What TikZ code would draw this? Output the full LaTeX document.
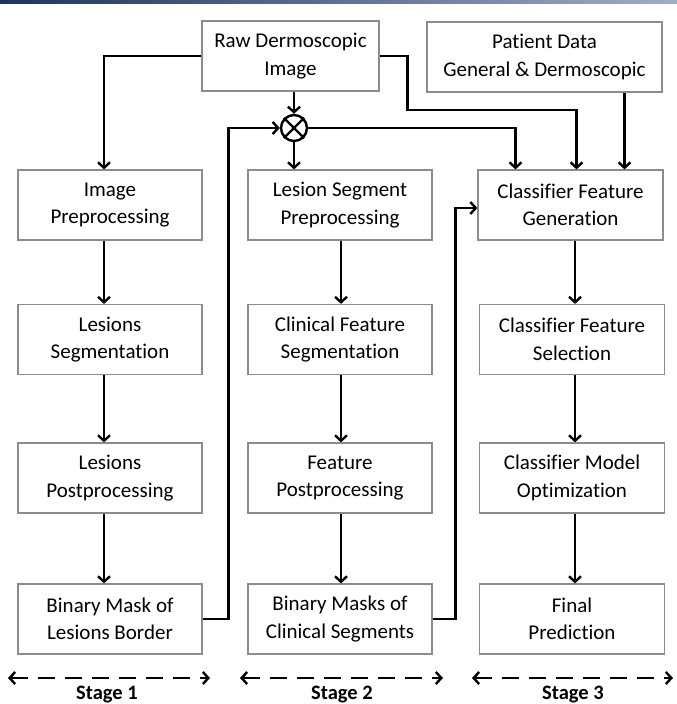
\documentclass[tikz,border=0pt]{standalone}
\usepackage{fontspec}
\setmainfont{Carlito}[Ligatures=NoCommon]
\usetikzlibrary{arrows.meta,calc}
\definecolor{rand}{RGB}{140,140,140}
\definecolor{balkenl}{RGB}{28,52,92}
\definecolor{balkenr}{RGB}{160,172,204}

\tikzset{
	box/.style={draw=rand, line width=1.2pt, fill=white, align=center,
		minimum width=184pt, minimum height=70pt, inner sep=2pt,
		font=\fontsize{21}{27.5}\selectfont},
	arr/.style={line width=2.4pt, -{Straight Barb[length=5.5pt,width=12pt]}},
	stagearr/.style={line width=2.4pt, dash pattern=on 17pt off 10pt,
		{Straight Barb[length=5.5pt,width=12pt]}-{Straight Barb[length=5.5pt,width=12pt]}},
	stagetext/.style={font=\fontsize{20.5}{24}\selectfont\bfseries}
}

\begin{document}
\begin{tikzpicture}[x=1pt, y=-1pt]

	\useasboundingbox (0,0) rectangle (677,704);
	\shade[left color=balkenl, right color=balkenr] (0,0) rectangle (677,3);

	% inputs
	\node[box, minimum width=177pt] (raw) at (290.5,56) {Raw Dermoscopic\\Image};
	\node[box, minimum width=235pt] (patient) at (544.5,57) {Patient Data\\General \& Dermoscopic};
	\node[draw, circle, line width=2.4pt, minimum size=26pt, inner sep=0pt] (mult) at (294,128) {};
	\draw[line width=2.2pt] (mult.north west) -- (mult.south east) (mult.north east) -- (mult.south west);

	% stage 1
	\node[box] (prep) at (110,205) {Image\\Preprocessing};
	\node[box] (seg)  at (110,339.5) {Lesions\\Segmentation};
	\node[box] (post) at (110,478) {Lesions\\Postprocessing};
	\node[box] (mask) at (110,619) {Binary Mask of\\Lesions Border};

	% stage 2
	\node[box] (lprep) at (340,205) {Lesion Segment\\Preprocessing};
	\node[box] (cseg)  at (340,339.5) {Clinical Feature\\Segmentation};
	\node[box] (fpost) at (340,478) {Feature\\Postprocessing};
	\node[box] (masks) at (340,619) {Binary Masks of\\Clinical Segments};

	% stage 3
	\node[box, minimum width=185pt] (cgen) at (570.5,205) {Classifier Feature\\Generation};
	\node[box, minimum width=185pt] (csel) at (572,339.5) {Classifier Feature\\Selection};
	\node[box, minimum width=185pt] (copt) at (572,478) {Classifier Model\\Optimization};
	\node[box, minimum width=185pt] (pred) at (572,619) {Final\\Prediction};

	% connectors
	\draw[arr] (raw.west) -| ([xshift=-6pt]prep.north);
	\draw[arr] (mult.north |- raw.south) -- (mult.north);
	\draw[arr] (mult.south) -- (mult.south |- lprep.north);
	\draw[arr] (raw.east) -- ++(28,0) |- ([xshift=6pt]cgen.north |- 0,110) -- ([xshift=6pt]cgen.north);
	\draw[arr] (mult.east) -| ([xshift=-55pt]cgen.north);
	\draw[arr] ([xshift=80pt]patient.south) -- ([xshift=80pt]patient.south |- cgen.north);

	\draw[arr] ([xshift=-6pt]prep.south) -- ([xshift=-6pt]seg.north);
	\draw[arr] ([xshift=-6pt]seg.south) -- ([xshift=-6pt]post.north);
	\draw[arr] ([xshift=-6pt]post.south) -- ([xshift=-6pt]mask.north);

	\draw[arr] ([xshift=1pt]lprep.south) -- ([xshift=1pt]cseg.north);
	\draw[arr] ([xshift=1pt]cseg.south) -- ([xshift=1pt]fpost.north);
	\draw[arr] ([xshift=1pt]fpost.south) -- ([xshift=1pt]masks.north);

	\draw[arr] ([xshift=4.5pt]cgen.south) -- ([xshift=3pt]csel.north);
	\draw[arr] ([xshift=3pt]csel.south) -- ([xshift=3pt]copt.north);
	\draw[arr] ([xshift=3pt]copt.south) -- ([xshift=3pt]pred.north);

	% feedback
	\draw[arr] (mask.east) -- ++(26,0) |- (mult.west);
	\draw[arr] (masks.east) -- ++(23,0) |- ([yshift=-3pt]cgen.west);

	% stages
	\node[stagetext] (st1) at (107,695) {Stage 1};
	\node[stagetext] (st2) at (342,695) {Stage 2};
	\node[stagetext] (st3) at (573,695) {Stage 3};
	\draw[stagearr] (8,678) -- (210,678);
	\draw[stagearr] (240,678) -- (443,678);
	\draw[stagearr] (472,678) -- (673,678);

\end{tikzpicture}
\end{document}
